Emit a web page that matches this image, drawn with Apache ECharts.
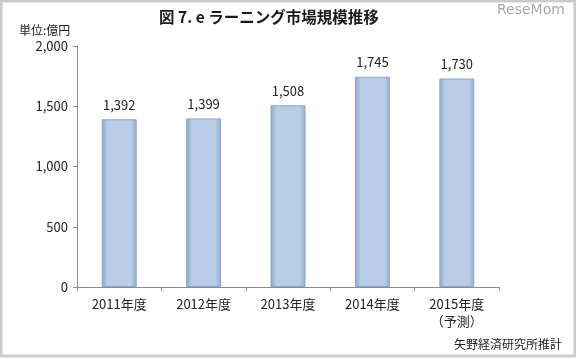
<!DOCTYPE html>
<html>
<head>
<meta charset="utf-8">
<script src="https://cdn.jsdelivr.net/npm/echarts@6/dist/echarts.min.js"></script>
<style>
html,body{margin:0;padding:0;background:#fff;}
#c{width:576px;height:359px;}
</style>
</head>
<body>
<div id="c"></div>
<script>
const categories = ['2011年度', '2012年度', '2013年度', '2014年度', '2015年度\n（予測）'];
const values = [1392, 1399, 1508, 1745, 1730];
const yTicks = [0, 500, 1000, 1500, 2000];

const fmt = v => String(v).replace(/\B(?=(\d{3})+(?!\d))/g, ',');
const font = '"Noto Sans CJK JP", "Noto Sans", sans-serif';

const chart = echarts.init(document.getElementById('c'), null, {renderer: 'canvas'});
chart.setOption({
  animation: false,
  backgroundColor: '#fff',
  grid: {left: 77, right: 77, top: 46, bottom: 72},
  graphic: [
    {type: 'rect', shape: {x: 1, y: 1, width: 574, height: 355}, style: {fill: 'none', stroke: '#cccccc', lineWidth: 3}, z: 100},
    {type: 'text', left: 159, top: 9, style: {text: '図 7. e ラーニング市場規模推移', font: 'bold 15.5px ' + font, fill: '#1a1a1a'}},
    {type: 'text', left: 19, top: 24, style: {text: '単位:億円', font: '12px ' + font, fill: '#222'}},
    {type: 'text', left: 497, top: 3, style: {text: 'ReseMom', font: '14px "DejaVu Sans", sans-serif', fill: '#a8a8a8'}},
    {type: 'text', right: 14, top: 338, style: {text: '矢野経済研究所推計', font: '12px ' + font, fill: '#222'}}
  ],
  xAxis: {
    type: 'category',
    data: categories,
    axisLine: {lineStyle: {color: '#8c8c8c'}},
    axisTick: {show: true, length: 4, alignWithLabel: false, lineStyle: {color: '#8c8c8c'}},
    axisLabel: {color: '#222', fontSize: 13, fontFamily: font, margin: 9, lineHeight: 17}
  },
  yAxis: {
    type: 'value',
    min: 0, max: 2000, interval: 500,
    axisLine: {show: true, lineStyle: {color: '#8c8c8c'}},
    axisTick: {show: true, length: 4, lineStyle: {color: '#8c8c8c'}},
    splitLine: {show: false},
    axisLabel: {color: '#222', fontSize: 13, fontFamily: font, margin: 9,
      formatter: v => yTicks.includes(v) ? fmt(v) : ''}
  },
  series: [{
    type: 'bar',
    data: values,
    barWidth: 35,
    itemStyle: {
      color: new echarts.graphic.LinearGradient(0, 0, 1, 0, [
        {offset: 0, color: '#8fa9cc'},
        {offset: 0.12, color: '#a9c0df'},
        {offset: 0.16, color: '#b9cde6'},
        {offset: 0.84, color: '#b9cde6'},
        {offset: 0.9, color: '#a9c0df'},
        {offset: 1, color: '#93aed2'}
      ]),
      borderColor: '#8aa5c9',
      borderWidth: 1
    },
    label: {show: true, position: 'top', distance: 8, color: '#222', fontSize: 13, fontFamily: font,
      formatter: p => fmt(p.value)}
  }]
});
</script>
</body>
</html>
